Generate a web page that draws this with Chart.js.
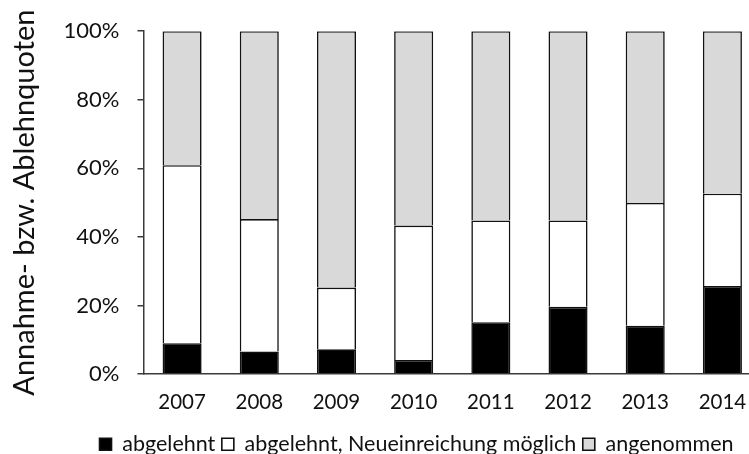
<!DOCTYPE html>
<html>
<head>
<meta charset="utf-8">
<script src="https://cdn.jsdelivr.net/npm/chart.js@4/dist/chart.umd.min.js"></script>
<style>
  html, body { margin: 0; padding: 0; background: #fff; overflow: hidden; }
  #wrap { width: 762px; height: 454px; }
</style>
</head>
<body>
<div id="wrap"><canvas id="c" width="762" height="454"></canvas></div>
<script>
const years = ['2007', '2008', '2009', '2010', '2011', '2012', '2013', '2014'];
const abgelehnt = [9.0, 6.6, 7.2, 4.1, 15.1, 19.6, 14.1, 25.7];
const neueinreichung = [51.9, 38.6, 18.0, 39.2, 29.7, 25.2, 35.8, 26.9];
const angenommen = [39.1, 54.8, 74.8, 56.7, 55.2, 55.2, 50.1, 47.4];
const seriesNames = ['abgelehnt', 'abgelehnt, Neueinreichung möglich', 'angenommen'];
const yTicks = [0, 20, 40, 60, 80, 100];
const yTitle = 'Annahme- bzw. Ablehnquoten';

const FONT = 'Lato';
const TXT = '#111';
const AX = '#3a3a3a';

const shiftLegend = {
  id: 'shiftLegend',
  afterLayout(chart) {
    const lg = chart.legend;
    if (lg) { lg.left += 36; lg.right += 36; lg.top += 13; lg.bottom += 13; }
  }
};

const mk = (label, data, fill) => ({
  label, data,
  backgroundColor: fill,
  borderColor: '#111',
  borderWidth: 1.6,
  barPercentage: 0.506,
  categoryPercentage: 1.0
});

new Chart(document.getElementById('c'), {
  type: 'bar',
  data: {
    labels: years,
    datasets: [
      mk(seriesNames[0], abgelehnt, '#000000'),
      mk(seriesNames[1], neueinreichung, '#ffffff'),
      mk(seriesNames[2], angenommen, '#d9d9d9')
    ]
  },
  plugins: [shiftLegend],
  options: {
    responsive: false,
    animation: false,
    devicePixelRatio: 1,
    layout: { padding: { top: 28, right: 1, left: 0, bottom: 2 } },
    plugins: {
      tooltip: { enabled: false },
      legend: {
        position: 'bottom',
        align: 'center',
        labels: {
          boxWidth: 12, boxHeight: 12,
          padding: 6.5,
          color: TXT,
          font: { family: FONT, size: 21.5 }
        }
      }
    },
    scales: {
      x: {
        stacked: true,
        grid: { display: false },
        border: { display: true, color: AX, width: 1.5 },
        ticks: { color: TXT, font: { family: FONT, size: 20.5 }, padding: 8.5 },
        afterFit: s => { s.height = 40; }
      },
      y: {
        stacked: true,
        min: 0, max: 100,
        afterBuildTicks: s => { s.ticks = yTicks.map(v => ({ value: v })); },
        ticks: { color: TXT, font: { family: FONT, size: 22 }, padding: 18, callback: v => v + '%' },
        grid: { drawOnChartArea: false, drawTicks: true, tickLength: 6, color: AX, lineWidth: 1.5 },
        border: { display: true, color: AX, width: 1.5 },
        title: {
          display: true, text: yTitle, color: TXT,
          font: { family: FONT, size: 29 },
          padding: { top: 7, bottom: 0 }
        },
        afterFit: s => { s.width = 143.5; }
      }
    }
  }
});
</script>
</body>
</html>
